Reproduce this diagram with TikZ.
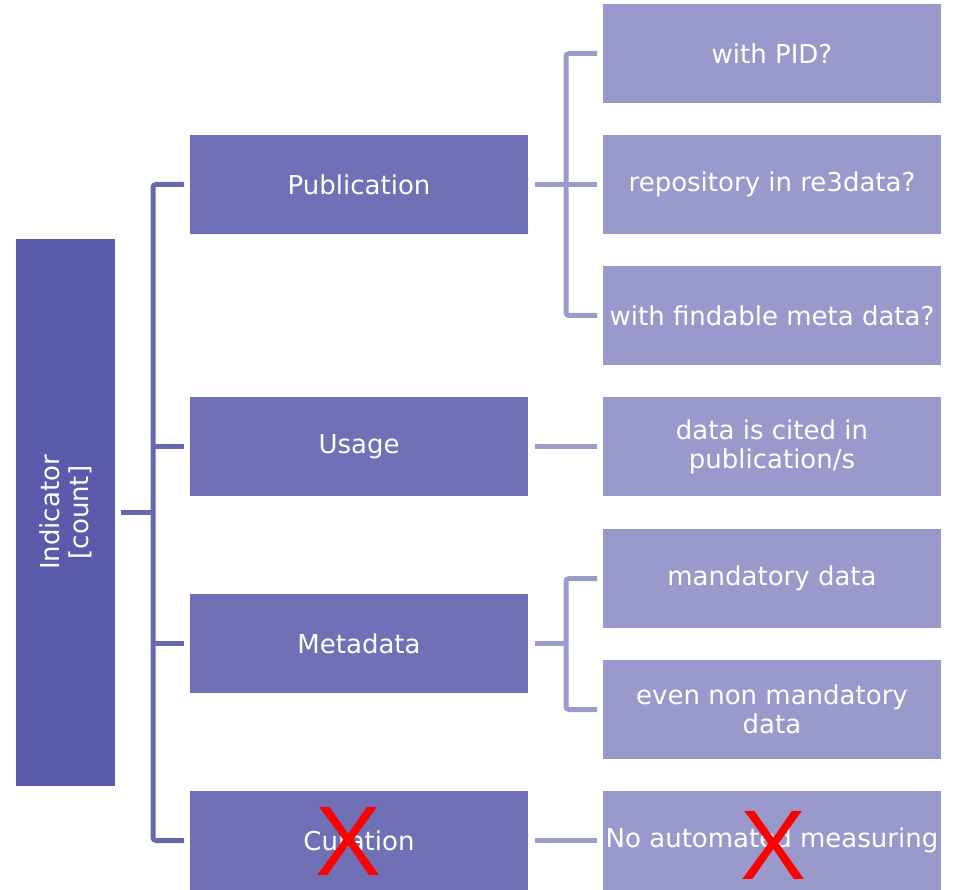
\documentclass[tikz,border=0pt]{standalone}
\usepackage{fontspec}
\setmainfont{DejaVu Sans}
\newfontfamily\crossfont{Liberation Sans}
\definecolor{rootfill}{HTML}{5B5BAB}
\definecolor{midfill}{HTML}{7070B6}
\definecolor{leaffill}{HTML}{9999CB}
\definecolor{midline}{HTML}{6868AE}
\definecolor{leafline}{HTML}{9C9CCA}
\begin{document}
\begin{tikzpicture}[x=1pt,y=-1pt,
  box/.style={inner sep=0pt, outer sep=0pt, text=white, align=center,
    font=\fontsize{26}{29}\selectfont},
  rootbox/.style={box, fill=rootfill, minimum width=99pt, minimum height=547pt},
  midbox/.style={box, fill=midfill, minimum width=338pt, minimum height=99pt},
  leafbox/.style={box, fill=leaffill, minimum width=338pt, minimum height=99pt},
  twoline/.style={text height=31pt},
  link1/.style={draw=midline, line width=5pt, rounded corners=3pt},
  link2/.style={draw=leafline, line width=5pt, rounded corners=3pt},
  cross/.style={text=red, inner sep=0pt, font=\crossfont\fontsize{99}{99}\selectfont}]
\useasboundingbox (0,0) rectangle (955,890);

% root
\node[rootbox] (ind) at (65.5,512.5) {};
\node[box, rotate=90] (indlabel) at (ind.center) {Indicator\\{[count]}};

% second level
\node[midbox] (pub) at (359,184.5) {Publication};
\node[midbox] (use) at (359,446.5) {Usage};
\node[midbox] (meta) at (359,643.5) {Metadata};
\node[midbox] (cur) at (359,840.5) {Curation};

% third level
\node[leafbox] (pid) at (772,53.5) {with PID?};
\node[leafbox] (repo) at (772,184.5) {repository in re3data?};
\node[leafbox] (find) at (772,315.5) {with findable meta data?};
\node[leafbox] (cited) at (772,446.5) {data is cited in\\publication/s};
\node[leafbox] (mand) at (772,578.5) {mandatory data};
\node[leafbox] (even) at (772,709.5) {even non mandatory\\data};
\node[leafbox] (noauto) at (772,840.5) {No automated measuring};

% trunks of the brackets
\coordinate (trunk) at (153,0);
\coordinate (pubtrunk) at (566,0);

% root to second level
\draw[link1] ([xshift=6pt]ind.east) -- (ind.east -| trunk);
\draw[link1] ([xshift=-6pt]pub.west) -| (trunk |- cur.west) -- ([xshift=-6pt]cur.west);
\draw[link1] ([xshift=-6pt]use.west) -- (use.west -| trunk);
\draw[link1] ([xshift=-6pt]meta.west) -- (meta.west -| trunk);

% publication bracket
\draw[link2] ([xshift=7pt]pub.east) -- ([xshift=-6pt]repo.west);
\draw[link2] ([xshift=-6pt]pid.west) -| (pubtrunk |- find.west) -- ([xshift=-6pt]find.west);

% usage
\draw[link2] ([xshift=7pt]use.east) -- ([xshift=-6pt]cited.west);

% metadata bracket
\draw[link2] ([xshift=7pt]meta.east) -- (meta.east -| pubtrunk);
\draw[link2] ([xshift=-6pt]mand.west) -| (pubtrunk |- even.west) -- ([xshift=-6pt]even.west);

% curation
\draw[link2] ([xshift=7pt]cur.east) -- ([xshift=-6pt]noauto.west);

% crossed-out items
\node[cross] (xcur) at (349,841) {X};
\node[cross] (xauto) at (774,845) {X};
\end{tikzpicture}
\end{document}
